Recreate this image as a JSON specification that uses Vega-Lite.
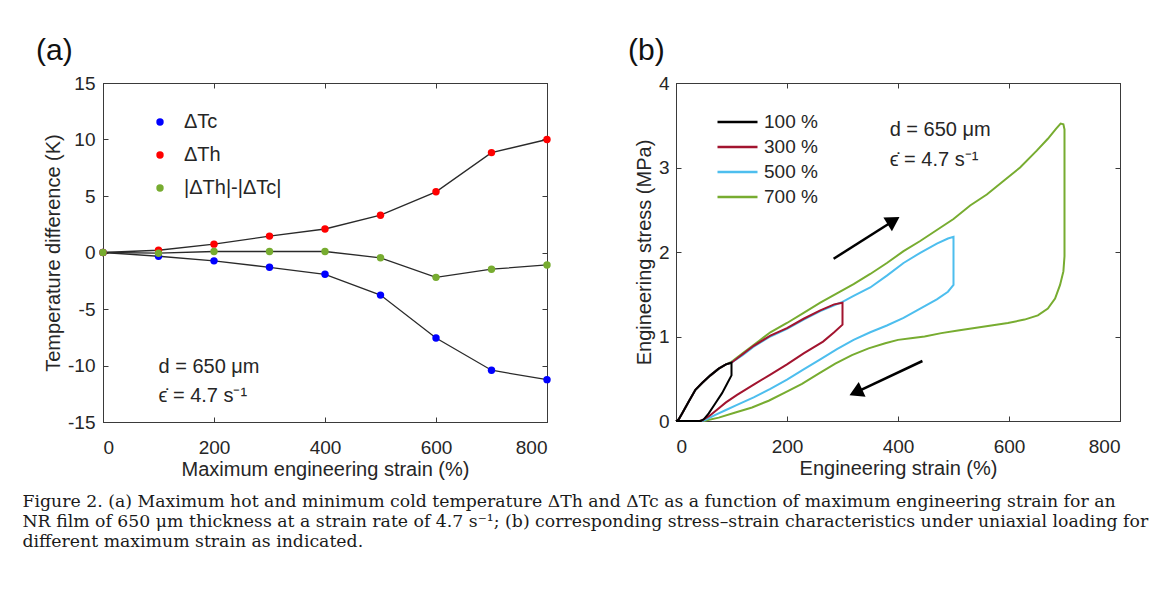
{
  "$schema": "https://vega.github.io/schema/vega-lite/v6.json",
  "background": "white",
  "padding": {"left": 22, "top": 35, "right": 5, "bottom": 5},
  "config": {
    "font": "Liberation Sans",
    "view": {"stroke": "#3a3a3a", "strokeWidth": 1},
    "axis": {
      "grid": false,
      "domainColor": "#3a3a3a",
      "tickColor": "#3a3a3a",
      "labelColor": "#262626",
      "titleColor": "#262626",
      "labelFont": "Liberation Sans",
      "titleFont": "Liberation Sans",
      "labelFontSize": 19,
      "titleFontSize": 20,
      "titleFontWeight": "normal",
      "tickSize": -5,
      "tickWidth": 1,
      "domainWidth": 1
    },
    "legend": {"labelFont": "Liberation Sans", "labelColor": "#262626", "padding": 0}
  },
  "datasets": {
    "temp": [
      {"strain": 0, "series": "ΔTc", "dT": 0},
      {"strain": 100, "series": "ΔTc", "dT": -0.33},
      {"strain": 200, "series": "ΔTc", "dT": -0.74},
      {"strain": 300, "series": "ΔTc", "dT": -1.31},
      {"strain": 400, "series": "ΔTc", "dT": -1.93},
      {"strain": 500, "series": "ΔTc", "dT": -3.77},
      {"strain": 600, "series": "ΔTc", "dT": -7.57},
      {"strain": 700, "series": "ΔTc", "dT": -10.42},
      {"strain": 800, "series": "ΔTc", "dT": -11.25},
      {"strain": 0, "series": "ΔTh", "dT": 0},
      {"strain": 100, "series": "ΔTh", "dT": 0.2},
      {"strain": 200, "series": "ΔTh", "dT": 0.74},
      {"strain": 300, "series": "ΔTh", "dT": 1.45},
      {"strain": 400, "series": "ΔTh", "dT": 2.08},
      {"strain": 500, "series": "ΔTh", "dT": 3.3},
      {"strain": 600, "series": "ΔTh", "dT": 5.37},
      {"strain": 700, "series": "ΔTh", "dT": 8.84},
      {"strain": 800, "series": "ΔTh", "dT": 10.0},
      {"strain": 0, "series": "|ΔTh|-|ΔTc|", "dT": 0},
      {"strain": 100, "series": "|ΔTh|-|ΔTc|", "dT": -0.06},
      {"strain": 200, "series": "|ΔTh|-|ΔTc|", "dT": 0.09},
      {"strain": 300, "series": "|ΔTh|-|ΔTc|", "dT": 0.09},
      {"strain": 400, "series": "|ΔTh|-|ΔTc|", "dT": 0.09},
      {"strain": 500, "series": "|ΔTh|-|ΔTc|", "dT": -0.47},
      {"strain": 600, "series": "|ΔTh|-|ΔTc|", "dT": -2.2},
      {"strain": 700, "series": "|ΔTh|-|ΔTc|", "dT": -1.48},
      {"strain": 800, "series": "|ΔTh|-|ΔTc|", "dT": -1.1}
    ],
    "loops": [
      {"curve": "700 %", "strain": 0, "stress": 0},
      {"curve": "700 %", "strain": 5, "stress": 0.02},
      {"curve": "700 %", "strain": 11, "stress": 0.09},
      {"curve": "700 %", "strain": 23, "stress": 0.23},
      {"curve": "700 %", "strain": 35, "stress": 0.37},
      {"curve": "700 %", "strain": 47, "stress": 0.45},
      {"curve": "700 %", "strain": 62, "stress": 0.54},
      {"curve": "700 %", "strain": 77, "stress": 0.62},
      {"curve": "700 %", "strain": 90, "stress": 0.67},
      {"curve": "700 %", "strain": 100, "stress": 0.7},
      {"curve": "700 %", "strain": 120, "stress": 0.8},
      {"curve": "700 %", "strain": 150, "stress": 0.95},
      {"curve": "700 %", "strain": 170, "stress": 1.05},
      {"curve": "700 %", "strain": 200, "stress": 1.16},
      {"curve": "700 %", "strain": 230, "stress": 1.28},
      {"curve": "700 %", "strain": 260, "stress": 1.4},
      {"curve": "700 %", "strain": 290, "stress": 1.51},
      {"curve": "700 %", "strain": 320, "stress": 1.62},
      {"curve": "700 %", "strain": 350, "stress": 1.74},
      {"curve": "700 %", "strain": 380, "stress": 1.87},
      {"curve": "700 %", "strain": 410, "stress": 2.01},
      {"curve": "700 %", "strain": 440, "stress": 2.13},
      {"curve": "700 %", "strain": 470, "stress": 2.26},
      {"curve": "700 %", "strain": 500, "stress": 2.39},
      {"curve": "700 %", "strain": 530, "stress": 2.55},
      {"curve": "700 %", "strain": 560, "stress": 2.68},
      {"curve": "700 %", "strain": 590, "stress": 2.84},
      {"curve": "700 %", "strain": 620, "stress": 3.0},
      {"curve": "700 %", "strain": 650, "stress": 3.2},
      {"curve": "700 %", "strain": 670, "stress": 3.34},
      {"curve": "700 %", "strain": 685, "stress": 3.46},
      {"curve": "700 %", "strain": 693, "stress": 3.52},
      {"curve": "700 %", "strain": 698, "stress": 3.51},
      {"curve": "700 %", "strain": 700, "stress": 3.45},
      {"curve": "700 %", "strain": 700, "stress": 1.95},
      {"curve": "700 %", "strain": 698, "stress": 1.77},
      {"curve": "700 %", "strain": 692, "stress": 1.61},
      {"curve": "700 %", "strain": 683, "stress": 1.45},
      {"curve": "700 %", "strain": 670, "stress": 1.33},
      {"curve": "700 %", "strain": 652, "stress": 1.25},
      {"curve": "700 %", "strain": 628, "stress": 1.2},
      {"curve": "700 %", "strain": 598, "stress": 1.16},
      {"curve": "700 %", "strain": 568, "stress": 1.13},
      {"curve": "700 %", "strain": 538, "stress": 1.1},
      {"curve": "700 %", "strain": 508, "stress": 1.07},
      {"curve": "700 %", "strain": 478, "stress": 1.04},
      {"curve": "700 %", "strain": 448, "stress": 1.0},
      {"curve": "700 %", "strain": 423, "stress": 0.98},
      {"curve": "700 %", "strain": 400, "stress": 0.96},
      {"curve": "700 %", "strain": 377, "stress": 0.92},
      {"curve": "700 %", "strain": 347, "stress": 0.86},
      {"curve": "700 %", "strain": 317, "stress": 0.78},
      {"curve": "700 %", "strain": 287, "stress": 0.68},
      {"curve": "700 %", "strain": 257, "stress": 0.56},
      {"curve": "700 %", "strain": 227, "stress": 0.44},
      {"curve": "700 %", "strain": 197, "stress": 0.34},
      {"curve": "700 %", "strain": 167, "stress": 0.24},
      {"curve": "700 %", "strain": 137, "stress": 0.16},
      {"curve": "700 %", "strain": 107, "stress": 0.1},
      {"curve": "700 %", "strain": 77, "stress": 0.04},
      {"curve": "700 %", "strain": 50, "stress": 0},
      {"curve": "500 %", "strain": 0, "stress": 0},
      {"curve": "500 %", "strain": 5, "stress": 0.02},
      {"curve": "500 %", "strain": 11, "stress": 0.09},
      {"curve": "500 %", "strain": 23, "stress": 0.23},
      {"curve": "500 %", "strain": 35, "stress": 0.37},
      {"curve": "500 %", "strain": 47, "stress": 0.45},
      {"curve": "500 %", "strain": 62, "stress": 0.54},
      {"curve": "500 %", "strain": 77, "stress": 0.62},
      {"curve": "500 %", "strain": 90, "stress": 0.67},
      {"curve": "500 %", "strain": 100, "stress": 0.69},
      {"curve": "500 %", "strain": 120, "stress": 0.78},
      {"curve": "500 %", "strain": 140, "stress": 0.88},
      {"curve": "500 %", "strain": 170, "stress": 1.0},
      {"curve": "500 %", "strain": 200, "stress": 1.09},
      {"curve": "500 %", "strain": 230, "stress": 1.2},
      {"curve": "500 %", "strain": 260, "stress": 1.3},
      {"curve": "500 %", "strain": 285, "stress": 1.37},
      {"curve": "500 %", "strain": 300, "stress": 1.41},
      {"curve": "500 %", "strain": 320, "stress": 1.48},
      {"curve": "500 %", "strain": 350, "stress": 1.58},
      {"curve": "500 %", "strain": 380, "stress": 1.72},
      {"curve": "500 %", "strain": 410, "stress": 1.87},
      {"curve": "500 %", "strain": 440, "stress": 1.99},
      {"curve": "500 %", "strain": 470, "stress": 2.1},
      {"curve": "500 %", "strain": 490, "stress": 2.16},
      {"curve": "500 %", "strain": 500, "stress": 2.18},
      {"curve": "500 %", "strain": 500, "stress": 1.61},
      {"curve": "500 %", "strain": 490, "stress": 1.53},
      {"curve": "500 %", "strain": 470, "stress": 1.44},
      {"curve": "500 %", "strain": 440, "stress": 1.33},
      {"curve": "500 %", "strain": 410, "stress": 1.22},
      {"curve": "500 %", "strain": 380, "stress": 1.13},
      {"curve": "500 %", "strain": 350, "stress": 1.05},
      {"curve": "500 %", "strain": 320, "stress": 0.96},
      {"curve": "500 %", "strain": 290, "stress": 0.85},
      {"curve": "500 %", "strain": 260, "stress": 0.73},
      {"curve": "500 %", "strain": 230, "stress": 0.61},
      {"curve": "500 %", "strain": 200, "stress": 0.49},
      {"curve": "500 %", "strain": 170, "stress": 0.38},
      {"curve": "500 %", "strain": 140, "stress": 0.28},
      {"curve": "500 %", "strain": 110, "stress": 0.19},
      {"curve": "500 %", "strain": 90, "stress": 0.13},
      {"curve": "500 %", "strain": 70, "stress": 0.07},
      {"curve": "500 %", "strain": 55, "stress": 0.02},
      {"curve": "500 %", "strain": 47, "stress": 0},
      {"curve": "300 %", "strain": 0, "stress": 0},
      {"curve": "300 %", "strain": 5, "stress": 0.02},
      {"curve": "300 %", "strain": 11, "stress": 0.09},
      {"curve": "300 %", "strain": 23, "stress": 0.23},
      {"curve": "300 %", "strain": 35, "stress": 0.37},
      {"curve": "300 %", "strain": 47, "stress": 0.45},
      {"curve": "300 %", "strain": 62, "stress": 0.54},
      {"curve": "300 %", "strain": 77, "stress": 0.62},
      {"curve": "300 %", "strain": 90, "stress": 0.67},
      {"curve": "300 %", "strain": 100, "stress": 0.69},
      {"curve": "300 %", "strain": 120, "stress": 0.79},
      {"curve": "300 %", "strain": 140, "stress": 0.89},
      {"curve": "300 %", "strain": 170, "stress": 1.01},
      {"curve": "300 %", "strain": 200, "stress": 1.1},
      {"curve": "300 %", "strain": 230, "stress": 1.21},
      {"curve": "300 %", "strain": 260, "stress": 1.31},
      {"curve": "300 %", "strain": 285, "stress": 1.38},
      {"curve": "300 %", "strain": 300, "stress": 1.4},
      {"curve": "300 %", "strain": 300, "stress": 1.14},
      {"curve": "300 %", "strain": 285, "stress": 1.05},
      {"curve": "300 %", "strain": 265, "stress": 0.94},
      {"curve": "300 %", "strain": 230, "stress": 0.8},
      {"curve": "300 %", "strain": 200, "stress": 0.67},
      {"curve": "300 %", "strain": 170, "stress": 0.55},
      {"curve": "300 %", "strain": 140, "stress": 0.43},
      {"curve": "300 %", "strain": 110, "stress": 0.31},
      {"curve": "300 %", "strain": 90, "stress": 0.22},
      {"curve": "300 %", "strain": 75, "stress": 0.14},
      {"curve": "300 %", "strain": 60, "stress": 0.06},
      {"curve": "300 %", "strain": 48, "stress": 0.01},
      {"curve": "300 %", "strain": 42, "stress": 0},
      {"curve": "100 %", "strain": 0, "stress": 0},
      {"curve": "100 %", "strain": 5, "stress": 0.02},
      {"curve": "100 %", "strain": 11, "stress": 0.09},
      {"curve": "100 %", "strain": 23, "stress": 0.23},
      {"curve": "100 %", "strain": 35, "stress": 0.37},
      {"curve": "100 %", "strain": 47, "stress": 0.45},
      {"curve": "100 %", "strain": 62, "stress": 0.54},
      {"curve": "100 %", "strain": 77, "stress": 0.62},
      {"curve": "100 %", "strain": 90, "stress": 0.67},
      {"curve": "100 %", "strain": 100, "stress": 0.69},
      {"curve": "100 %", "strain": 100, "stress": 0.54},
      {"curve": "100 %", "strain": 92, "stress": 0.44},
      {"curve": "100 %", "strain": 83, "stress": 0.33},
      {"curve": "100 %", "strain": 71, "stress": 0.21},
      {"curve": "100 %", "strain": 59, "stress": 0.09},
      {"curve": "100 %", "strain": 50, "stress": 0.02},
      {"curve": "100 %", "strain": 44, "stress": 0},
      {"curve": "100 %", "strain": 20, "stress": 0},
      {"curve": "100 %", "strain": 0, "stress": 0}
    ],
    "arrows": [
      {"dir": "loading", "strain": 284, "stress": 1.92, "strain2": 392, "stress2": 2.37},
      {"dir": "unloading", "strain": 444, "stress": 0.71, "strain2": 324, "stress2": 0.34}
    ]
  },
  "title": {
    "text": [
      "Figure 2. (a) Maximum hot and minimum cold temperature ΔTh and ΔTc as a function of maximum engineering strain for an",
      "NR film of 650 μm thickness at a strain rate of 4.7 s⁻¹; (b) corresponding stress–strain characteristics under uniaxial loading for",
      "different maximum strain as indicated."
    ],
    "orient": "bottom",
    "anchor": "start",
    "frame": "bounds",
    "font": "DejaVu Serif",
    "fontSize": 17.3,
    "fontWeight": "normal",
    "lineHeight": 20,
    "color": "#1a1a1a",
    "offset": 13,
    "dx": -13
  },
  "spacing": 75,
  "resolve": {"scale": {"x": "independent", "y": "independent", "color": "independent"}, "legend": {"color": "independent"}},
  "hconcat": [
    {
      "width": 444,
      "height": 339,
      "title": {"text": "(a)", "anchor": "start", "frame": "group", "dx": -67, "fontSize": 30, "fontWeight": "normal", "offset": 8, "color": "#111111", "font": "Liberation Sans"},
      "layer": [
        {
          "data": {"name": "temp"},
          "mark": {"type": "line", "color": "#2a2a2a", "strokeWidth": 1.3},
          "encoding": {
            "x": {"field": "strain", "type": "quantitative", "scale": {"domain": [0, 800], "nice": false},
                  "axis": {"orient": "bottom", "values": [0, 200, 400, 600, 800], "title": "Maximum engineering strain (%)", "labelPadding": 21, "titlePadding": 2}},
            "y": {"field": "dT", "type": "quantitative", "scale": {"domain": [-15, 15], "nice": false},
                  "axis": {"orient": "left", "values": [-15, -10, -5, 0, 5, 10, 15], "title": "Temperature difference (K)", "labelPadding": 13, "titlePadding": 4, "labelExpr": "'' + datum.value"}},
            "detail": {"field": "series"}
          }
        },
        {
          "data": {"name": "temp"},
          "mark": {"type": "circle", "size": 55, "opacity": 1},
          "encoding": {
            "x": {"field": "strain", "type": "quantitative", "axis": null},
            "y": {"field": "dT", "type": "quantitative", "axis": null},
            "color": {"field": "series", "type": "nominal",
                      "scale": {"domain": ["ΔTc", "ΔTh", "|ΔTh|-|ΔTc|"], "range": ["#0000ff", "#ff0000", "#77ac30"]},
                      "legend": {"orient": "none", "legendX": 47, "legendY": 29, "title": null, "symbolType": "circle", "symbolSize": 55, "labelFontSize": 20, "labelOffset": 14, "rowPadding": 13}}
          }
        },
        {
          "data": {"name": "temp"},
          "mark": {"type": "point", "opacity": 0},
          "encoding": {
            "x": {"field": "strain", "type": "quantitative", "axis": {"orient": "top", "values": [0, 200, 400, 600, 800], "labels": false, "title": null}},
            "y": {"field": "dT", "type": "quantitative", "axis": {"orient": "right", "values": [-15, -10, -5, 0, 5, 10, 15], "labels": false, "title": null}}
          }
        },
        {
          "data": {"values": [{"panel": "a"}]},
          "mark": {"type": "text", "text": ["d = 650 μm", "ϵ̇ = 4.7 s⁻¹"], "align": "left", "baseline": "alphabetic", "fontSize": 20, "lineHeight": 29, "color": "#262626", "font": "Liberation Sans"},
          "encoding": {
            "x": {"datum": 100, "type": "quantitative", "axis": null},
            "y": {"datum": -10.7, "type": "quantitative", "axis": null}
          }
        }
      ],
      "resolve": {"axis": {"x": "independent", "y": "independent"}}
    },
    {
      "width": 444,
      "height": 338,
      "title": {"text": "(b)", "anchor": "start", "frame": "group", "dx": -48, "fontSize": 30, "fontWeight": "normal", "offset": 8, "color": "#111111", "font": "Liberation Sans"},
      "layer": [
        {
          "data": {"name": "loops"},
          "mark": {"type": "line", "strokeWidth": 2},
          "encoding": {
            "x": {"field": "strain", "type": "quantitative", "scale": {"domain": [0, 800], "nice": false},
                  "axis": {"orient": "bottom", "values": [0, 200, 400, 600, 800], "title": "Engineering strain (%)", "labelPadding": 21, "titlePadding": 2}},
            "y": {"field": "stress", "type": "quantitative", "scale": {"domain": [0, 4], "nice": false},
                  "axis": {"orient": "left", "values": [0, 1, 2, 3, 4], "title": "Engineering stress (MPa)", "labelPadding": 12, "titlePadding": 4}},
            "color": {"field": "curve", "type": "nominal",
                      "scale": {"domain": ["100 %", "300 %", "500 %", "700 %"], "range": ["#000000", "#a2142f", "#4dbeee", "#77ac30"]},
                      "legend": {"orient": "none", "legendX": 40, "legendY": 29, "title": null, "symbolType": "stroke", "symbolSize": 1600, "symbolStrokeWidth": 2.5, "labelFontSize": 19, "labelOffset": 5, "clipHeight": 20, "rowPadding": 5}},
            "order": {"value": null}
          }
        },
        {
          "data": {"name": "arrows"},
          "mark": {"type": "rule", "color": "#000000", "strokeWidth": 2.5},
          "encoding": {
            "x": {"field": "strain", "type": "quantitative", "axis": null},
            "y": {"field": "stress", "type": "quantitative", "axis": null},
            "x2": {"field": "strain2"},
            "y2": {"field": "stress2"}
          }
        },
        {
          "data": {"name": "arrows"},
          "mark": {"type": "point", "shape": "triangle-up", "filled": true, "size": 260, "color": "#000000", "opacity": 1},
          "encoding": {
            "x": {"field": "strain2", "type": "quantitative", "axis": null},
            "y": {"field": "stress2", "type": "quantitative", "axis": null},
            "angle": {"field": "dir", "type": "nominal", "scale": {"domain": ["loading", "unloading"], "range": [58, 245]}, "legend": null}
          }
        },
        {
          "data": {"name": "loops"},
          "mark": {"type": "point", "opacity": 0},
          "encoding": {
            "x": {"field": "strain", "type": "quantitative", "axis": {"orient": "top", "values": [0, 200, 400, 600, 800], "labels": false, "title": null}},
            "y": {"field": "stress", "type": "quantitative", "axis": {"orient": "right", "values": [0, 1, 2, 3, 4], "labels": false, "title": null}}
          }
        },
        {
          "data": {"values": [{"panel": "b"}]},
          "mark": {"type": "text", "text": ["d = 650 μm", "ϵ̇ = 4.7 s⁻¹"], "align": "left", "baseline": "alphabetic", "fontSize": 20, "lineHeight": 30, "color": "#262626", "font": "Liberation Sans"},
          "encoding": {
            "x": {"datum": 385, "type": "quantitative", "axis": null},
            "y": {"datum": 3.37, "type": "quantitative", "axis": null}
          }
        }
      ],
      "resolve": {"axis": {"x": "independent", "y": "independent"}}
    }
  ]
}
